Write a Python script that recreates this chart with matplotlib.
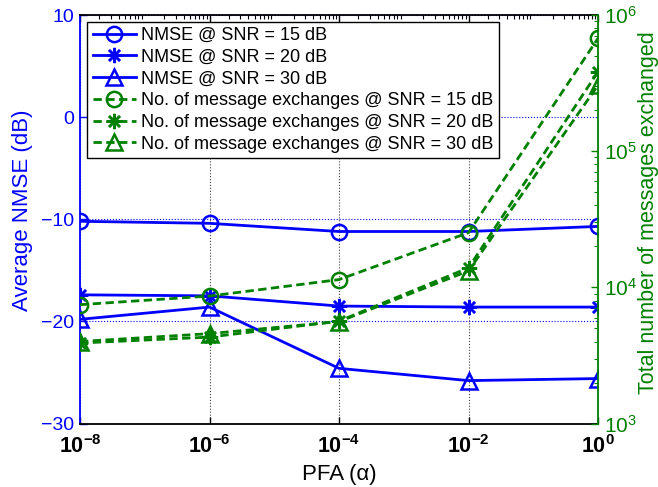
import matplotlib
matplotlib.use("Agg")
import matplotlib.pyplot as plt
from matplotlib.ticker import FixedLocator, FixedFormatter, LogLocator, NullFormatter

plt.rcParams["font.family"] = ["Liberation Sans", "DejaVu Sans"]
plt.rcParams["mathtext.fontset"] = "custom"
plt.rcParams["mathtext.rm"] = "Liberation Sans"
plt.rcParams["mathtext.it"] = "Liberation Sans:italic"
plt.rcParams["mathtext.bf"] = "Liberation Sans:bold"

# Probability of false alarm (x axis)
pfa = [1e-8, 1e-6, 1e-4, 1e-2, 1e0]
pfa_labels = [r"$\mathbf{10^{-8}}$", r"$\mathbf{10^{-6}}$", r"$\mathbf{10^{-4}}$",
              r"$\mathbf{10^{-2}}$", r"$\mathbf{10^{0}}$"]

# Average NMSE in dB (left axis)
nmse_snr15 = [-10.2, -10.4, -11.2, -11.2, -10.7]
nmse_snr20 = [-17.4, -17.5, -18.5, -18.6, -18.6]
nmse_snr30 = [-19.8, -18.6, -24.6, -25.8, -25.6]

# Total number of messages exchanged (right axis, log scale)
msgs_snr15 = [7460, 8630, 11400, 25200, 674000]
msgs_snr20 = [3900, 4310, 5650, 13900, 383000]
msgs_snr30 = [4000, 4570, 5600, 13200, 305000]

nmse_ticks = [-30, -20, -10, 0, 10]
msg_ticks = [1e3, 1e4, 1e5, 1e6]
msg_tick_labels = [r"$10^{3}$", r"$10^{4}$", r"$10^{5}$", r"$10^{6}$"]

labels = ["NMSE @ SNR = 15 dB", "NMSE @ SNR = 20 dB", "NMSE @ SNR = 30 dB",
          "No. of message exchanges @ SNR = 15 dB",
          "No. of message exchanges @ SNR = 20 dB",
          "No. of message exchanges @ SNR = 30 dB"]

BLUE = (0, 0, 1)
GREEN = (0, 0.5, 0)
STAR = (8, 2, 0)

fig = plt.figure(figsize=(6.58, 4.87), dpi=100)
W, H = 658, 487
x0, x1, y0, y1 = 80, 598, 15, 423.5
ax = fig.add_axes([x0 / W, 1 - y1 / H, (x1 - x0) / W, (y1 - y0) / H])
ax2 = ax.twinx()

common = dict(lw=2, mfc="none", mew=1.8)
h1, = ax.plot(pfa, nmse_snr15, color=BLUE, marker="o", ms=11, **common)
h2, = ax.plot(pfa, nmse_snr20, color=BLUE, marker=STAR, ms=11, **common)
h3, = ax.plot(pfa, nmse_snr30, color=BLUE, marker="^", ms=12, **common)

dash = dict(ls="--", dashes=(3, 1.6))
g1, = ax2.plot(pfa, msgs_snr15, color=GREEN, marker="o", ms=11, **dash, **common)
g2, = ax2.plot(pfa, msgs_snr20, color=GREEN, marker=STAR, ms=11, **dash, **common)
g3, = ax2.plot(pfa, msgs_snr30, color=GREEN, marker="^", ms=12, **dash, **common)

# x axis (log)
ax.set_xscale("log")
ax.set_xlim(pfa[0], pfa[-1])
ax.xaxis.set_major_locator(FixedLocator(pfa))
ax.xaxis.set_major_formatter(FixedFormatter(pfa_labels))
ax.xaxis.set_minor_locator(LogLocator(base=10, subs=range(2, 10), numticks=100))
ax.xaxis.set_minor_formatter(NullFormatter())
ax.tick_params(axis="x", which="major", direction="in", top=True, bottom=True,
               length=5, width=1, labelsize=15.5, pad=8.5, colors="black")
ax.tick_params(axis="x", which="minor", direction="in", top=True, bottom=False,
               length=3, width=0.8)

# left axis
ax.set_ylim(-30, 10)
ax.set_yticks(nmse_ticks)
ax.tick_params(axis="y", which="major", direction="in", left=True, right=False,
               length=5, width=1, labelsize=14, colors=BLUE, pad=4)
ax.set_ylabel("Average NMSE (dB)", color=BLUE, fontsize=16)
ax.yaxis.set_label_coords((33 - x0) / (x1 - x0), 0.522)
ax.set_xlabel("PFA (\u03b1)", fontsize=16)
ax.xaxis.set_label_coords(0.5, (y1 - 464) / (y1 - y0))

# right axis (log)
ax2.set_yscale("log")
ax2.set_ylim(1e3, 1e6)
ax2.yaxis.set_major_locator(FixedLocator(msg_ticks))
ax2.yaxis.set_major_formatter(FixedFormatter(msg_tick_labels))
ax2.yaxis.set_minor_locator(LogLocator(base=10, subs=range(2, 10), numticks=100))
ax2.yaxis.set_minor_formatter(NullFormatter())
ax2.tick_params(axis="y", which="major", direction="in", length=5, width=1,
                labelsize=15, colors=GREEN, pad=4)
ax2.tick_params(axis="y", which="minor", direction="in", length=3, width=0.8,
                colors=GREEN)
ax2.set_ylabel("Total number of messages exchanged", color=GREEN, fontsize=15.5)
ax2.yaxis.set_label_coords((638 - x0) / (x1 - x0), 0.515)

# grids
ax.grid(True, which="major", axis="x", ls=":", color="0.25", lw=0.8)
ax.grid(True, which="major", axis="y", ls=":", color=BLUE, lw=0.8)

# spines
for s in ["top", "bottom"]:
    ax.spines[s].set_color("black")
    ax.spines[s].set_linewidth(1.3)
ax.spines["left"].set_color(BLUE)
ax.spines["left"].set_linewidth(1.3)
ax.spines["right"].set_visible(False)
for s in ["top", "bottom", "left"]:
    ax2.spines[s].set_visible(False)
ax2.spines["right"].set_color(GREEN)
ax2.spines["right"].set_linewidth(1.3)

leg = ax2.legend([h1, h2, h3, g1, g2, g3], labels, loc="upper left",
                 bbox_to_anchor=((87.3 - x0) / (x1 - x0), (y1 - 21.7) / (y1 - y0)),
                 borderaxespad=0, fontsize=13, handlelength=2.4,
                 handletextpad=0.3, labelspacing=0.26, borderpad=0.3,
                 fancybox=False, framealpha=1, edgecolor="black", numpoints=1)
leg.get_frame().set_linewidth(1.0)

fig.savefig("out.png", dpi=100)
